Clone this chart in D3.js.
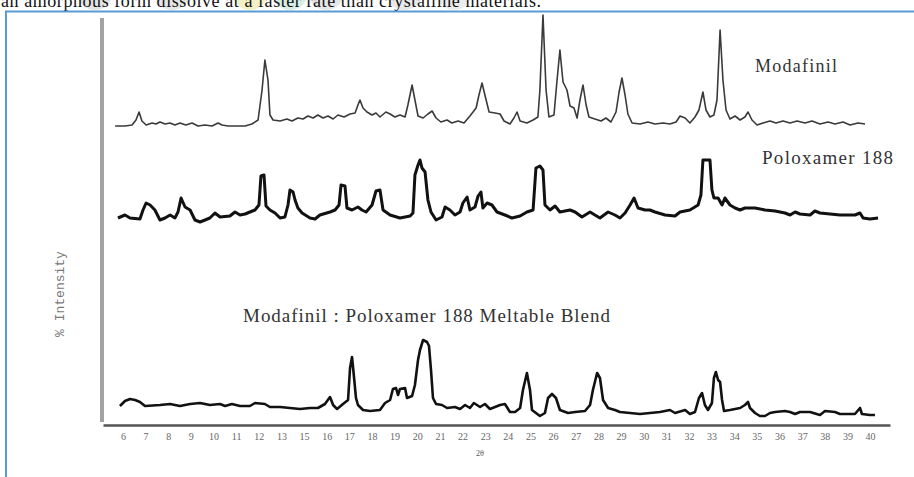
<!DOCTYPE html>
<html>
<head>
<meta charset="utf-8">
<script src="https://cdn.jsdelivr.net/npm/d3@7"></script>
<style>
  body { margin: 0; background: #fff; }
  svg { display: block; }
</style>
</head>
<body>
<script>
// x axis tick labels as printed on the figure (2θ, degrees)
const tickLabels = ["6","7","8","9","10","11","12","13","15","16","17","18","19","20","21","22","23",
  "24","25","26","27","28","29","30","31","32","33","34","35","36","37","38","39","40"];

// [2θ, relative intensity]
const modafinil = [
  [5.64,2],[6.09,2],[6.41,3],[6.59,8],[6.73,16],[6.86,7],[7.05,3],[7.32,5],[7.50,4],[7.68,6],
  [7.91,4],[8.14,5],[8.36,3],[8.59,5],[8.86,3],[9.14,5],[9.41,2],[9.73,3],[10.05,2],[10.32,5],
  [10.50,3],[10.77,2],[11.55,2],[11.86,4],[12.14,8],[12.32,38],[12.45,68],[12.59,48],[12.68,13],
  [12.82,8],[13.14,7],[13.45,9],[13.68,7],[13.95,10],[14.18,9],[14.41,12],[14.64,10],[14.86,13],
  [15.09,10],[15.32,12],[15.55,9],[15.77,13],[16.05,11],[16.32,14],[16.55,15],[16.68,23],[16.77,28],
  [16.91,20],[17.09,16],[17.32,13],[17.50,15],[17.68,11],[17.95,16],[18.14,14],[18.36,11],[18.59,13],
  [18.82,11],[18.95,23],[19.14,43],[19.27,28],[19.41,12],[19.64,10],[19.86,14],[20.05,17],[20.23,10],
  [20.45,6],[20.73,8],[20.95,5],[21.23,7],[21.50,5],[21.77,12],[22.05,20],[22.18,33],[22.32,45],
  [22.45,33],[22.64,16],[22.91,15],[23.14,14],[23.32,7],[23.59,4],[23.77,10],[23.91,16],[24.05,7],
  [24.36,5],[24.64,8],[24.86,11],[24.95,38],[25.09,113],[25.23,38],[25.36,11],[25.59,13],[25.73,48],
  [25.86,78],[26.00,46],[26.18,38],[26.32,22],[26.50,20],[26.64,10],[26.77,28],[26.91,43],[27.05,23],
  [27.18,11],[27.45,9],[27.73,7],[27.95,10],[28.18,6],[28.41,16],[28.55,36],[28.68,50],[28.82,33],
  [28.95,14],[29.14,5],[29.50,4],[29.86,6],[30.18,4],[30.55,5],[30.86,4],[31.14,6],[31.32,12],
  [31.55,10],[31.77,5],[32.00,11],[32.18,18],[32.36,36],[32.50,18],[32.68,11],[32.86,13],[33.00,28],
  [33.14,98],[33.27,48],[33.41,18],[33.59,9],[33.82,12],[34.05,8],[34.27,11],[34.41,16],[34.59,8],
  [34.82,3],[35.09,5],[35.41,7],[35.68,5],[36.00,7],[36.32,5],[36.64,7],[37.00,5],[37.32,7],
  [37.68,4],[38.05,6],[38.36,4],[38.73,6],[39.05,3],[39.41,5],[39.73,4]
];

const poloxamer = [
  [5.77,7],[6.09,10],[6.32,7],[6.77,6],[6.91,15],[7.05,22],[7.23,20],[7.45,15],[7.68,5],[7.91,7],
  [8.14,10],[8.36,7],[8.50,13],[8.64,27],[8.82,18],[9.05,15],[9.27,5],[9.50,3],[9.73,5],[9.95,7],
  [10.18,12],[10.41,8],[10.86,9],[11.09,13],[11.32,10],[11.55,11],[11.77,13],[12.00,15],[12.18,20],
  [12.27,49],[12.41,50],[12.50,19],[12.68,15],[12.91,12],[13.14,7],[13.36,8],[13.50,20],[13.59,35],
  [13.73,33],[13.82,25],[13.95,17],[14.14,12],[14.50,7],[14.73,6],[14.95,10],[15.41,13],[15.64,15],
  [15.82,20],[15.91,40],[16.09,39],[16.18,17],[16.41,15],[16.68,18],[16.86,15],[17.05,13],[17.32,20],
  [17.50,34],[17.68,35],[17.82,15],[18.14,10],[18.59,7],[19.05,9],[19.18,12],[19.27,50],[19.41,60],
  [19.50,65],[19.59,57],[19.73,53],[19.86,25],[20.00,13],[20.23,5],[20.50,8],[20.64,18],[20.86,15],
  [21.09,10],[21.32,13],[21.45,22],[21.64,28],[21.77,15],[22.00,18],[22.14,29],[22.27,33],[22.36,17],
  [22.55,22],[22.77,20],[23.00,13],[23.36,10],[23.68,7],[24.05,9],[24.36,13],[24.64,15],[24.77,57],
  [24.95,59],[25.09,55],[25.18,20],[25.41,15],[25.64,19],[25.86,13],[26.32,15],[26.55,13],[26.86,8],
  [27.23,13],[27.45,10],[27.68,7],[28.05,13],[28.36,10],[28.59,7],[28.82,12],[29.05,20],[29.23,27],
  [29.41,17],[29.73,15],[29.95,15],[30.18,13],[30.64,10],[31.09,9],[31.32,13],[31.77,15],[32.14,20],
  [32.27,30],[32.36,65],[32.68,65],[32.77,35],[32.86,27],[33.05,27],[33.23,20],[33.36,27],[33.59,20],
  [33.82,17],[34.05,15],[34.27,17],[34.73,17],[35.18,15],[35.64,14],[36.09,12],[36.32,10],[36.55,13],
  [36.77,11],[37.23,10],[37.45,14],[37.68,12],[38.14,11],[38.59,10],[39.27,10],[39.50,12],[39.64,7],
  [39.95,6],[40.32,7]
];

const blend = [
  [5.86,14],[6.09,19],[6.32,21],[6.55,20],[6.77,18],[7.00,14],[7.68,15],[8.14,16],[8.59,14],[9.05,16],
  [9.50,17],[9.95,15],[10.41,16],[10.64,14],[10.95,16],[11.32,14],[11.77,14],[12.00,17],[12.45,16],
  [12.68,13],[13.14,13],[13.59,12],[14.05,11],[14.50,12],[14.86,12],[15.18,16],[15.41,23],[15.55,15],
  [15.73,11],[16.00,16],[16.23,20],[16.32,52],[16.41,63],[16.50,43],[16.59,22],[16.68,15],[16.91,10],
  [17.23,9],[17.68,10],[17.91,17],[18.14,20],[18.27,31],[18.41,32],[18.50,25],[18.59,31],[18.82,32],
  [18.91,22],[19.14,24],[19.27,35],[19.41,60],[19.50,70],[19.64,80],[19.82,78],[19.91,74],[20.00,50],
  [20.09,22],[20.23,16],[20.50,15],[20.73,12],[21.09,13],[21.32,11],[21.55,15],[21.77,12],[21.95,17],
  [22.23,13],[22.45,16],[22.68,11],[22.91,13],[23.14,15],[23.36,16],[23.59,8],[23.82,8],[24.05,12],
  [24.18,30],[24.36,47],[24.50,30],[24.59,10],[24.95,4],[25.18,7],[25.32,22],[25.50,26],[25.68,22],
  [25.86,10],[26.23,7],[26.55,8],[27.00,9],[27.23,15],[27.36,30],[27.55,47],[27.68,42],[27.82,20],
  [28.05,12],[28.36,10],[28.59,8],[29.05,7],[29.50,6],[29.95,7],[30.41,8],[30.86,10],[31.09,7],
  [31.55,10],[31.77,6],[32.00,8],[32.18,22],[32.32,27],[32.45,15],[32.59,10],[32.77,17],[32.86,42],
  [32.95,48],[33.05,40],[33.14,38],[33.23,20],[33.32,9],[33.59,10],[34.05,12],[34.27,15],[34.41,18],
  [34.50,12],[34.73,7],[34.95,4],[35.18,4],[35.41,7],[35.64,8],[36.09,9],[36.32,8],[36.55,6],
  [36.77,8],[37.23,8],[37.68,5],[37.91,9],[38.36,8],[38.59,6],[39.27,6],[39.50,12],[39.59,6],
  [39.95,5],[40.18,5]
];

const width = 914, height = 477;

const svg = d3.select("body").append("svg")
    .attr("width", width)
    .attr("height", height);

// faint watermark blobs behind the page text
const blobs = [
    {cx: 95, c: "#e4e4e4"}, {cx: 172, c: "#e6e6e6"}, {cx: 250, c: "#f3f0c8"},
    {cx: 290, c: "#d8efe6"}, {cx: 326, c: "#e6e6e6"}, {cx: 404, c: "#e8e8e8"},
    {cx: 454, c: "#ececec"}
];
svg.selectAll(".blob")
    .data(blobs)
    .enter()
    .append("circle")
        .attr("class", "blob")
        .attr("cx", function (d) { return d.cx; })
        .attr("cy", -8)
        .attr("r", 18)
        .style("fill", function (d) { return d.c; });

// page text above the figure (cut off by the crop)
svg.append("text")
    .attr("x", 1).attr("y", 7)
    .attr("textLength", 540)
    .style("font-family", "Liberation Serif")
    .style("font-size", "18px")
    .style("fill", "#111")
    .text("an amorphous form dissolve at a faster rate than crystalline materials.");

// figure frame
svg.append("path")
    .attr("d", "M6," + height + "V11.5H" + width)
    .style("fill", "none")
    .style("stroke", "#5b9bd5")
    .style("stroke-width", 2);

const x = d3.scaleLinear().domain([6, 40]).range([123, 871]);

const xTicks = d3.scalePoint()
    .domain(tickLabels)
    .range([103, 890])
    .padding(0.88);

// y axis bar
svg.append("line")
    .attr("x1", 102).attr("x2", 102)
    .attr("y1", 18).attr("y2", 422)
    .style("stroke", "#a3a3a3")
    .style("stroke-width", 4);

const xAxis = svg.append("g")
    .attr("transform", "translate(0,425)")
    .call(d3.axisBottom(xTicks).tickSize(0).tickPadding(8));

xAxis.select(".domain")
    .style("stroke", "#555")
    .style("stroke-width", 2.5);

xAxis.selectAll("text")
    .style("font-family", "Liberation Serif")
    .style("font-size", "10px")
    .style("fill", "#666");

svg.append("text")
    .attr("x", 480).attr("y", 456)
    .attr("text-anchor", "middle")
    .style("font-family", "Liberation Serif")
    .style("font-size", "8px")
    .style("fill", "#555")
    .text("2θ");

svg.append("text")
    .attr("transform", "translate(64,294) rotate(-90)")
    .attr("text-anchor", "middle")
    .style("font-family", "Liberation Mono")
    .style("font-size", "13px")
    .style("fill", "#777")
    .text("% Intensity");

// each trace gets its own baseline in the stack
const traces = [
    {data: modafinil, base: 128, stroke: 1.6, color: "#3a3a3a"},
    {data: poloxamer, base: 225, stroke: 3, color: "#111"},
    {data: blend, base: 420, stroke: 2.6, color: "#111"}
];

traces.forEach(function (t) {
    const y = d3.scaleLinear().domain([0, 100]).range([t.base, t.base - 100]);
    const line = d3.line()
        .x(function (d) { return x(d[0]); })
        .y(function (d) { return y(d[1]); });
    svg.append("path")
        .datum(t.data)
        .attr("d", line)
        .style("fill", "none")
        .style("stroke", t.color)
        .style("stroke-width", t.stroke)
        .style("stroke-linejoin", "round");
});

const labels = [
    {text: "Modafinil", x: 755, y: 72, len: 82, size: 18},
    {text: "Poloxamer 188", x: 762, y: 164, len: 131, size: 19},
    {text: "Modafinil : Poloxamer 188 Meltable Blend", x: 243, y: 322, len: 367, size: 19}
];

svg.selectAll(".series-label")
    .data(labels)
    .enter()
    .append("text")
        .attr("class", "series-label")
        .attr("x", function (d) { return d.x; })
        .attr("y", function (d) { return d.y; })
        .attr("textLength", function (d) { return d.len; })
        .style("font-family", "Liberation Serif")
        .style("font-size", function (d) { return d.size + "px"; })
        .style("fill", "#333")
        .text(function (d) { return d.text; });
</script>
</body>
</html>
